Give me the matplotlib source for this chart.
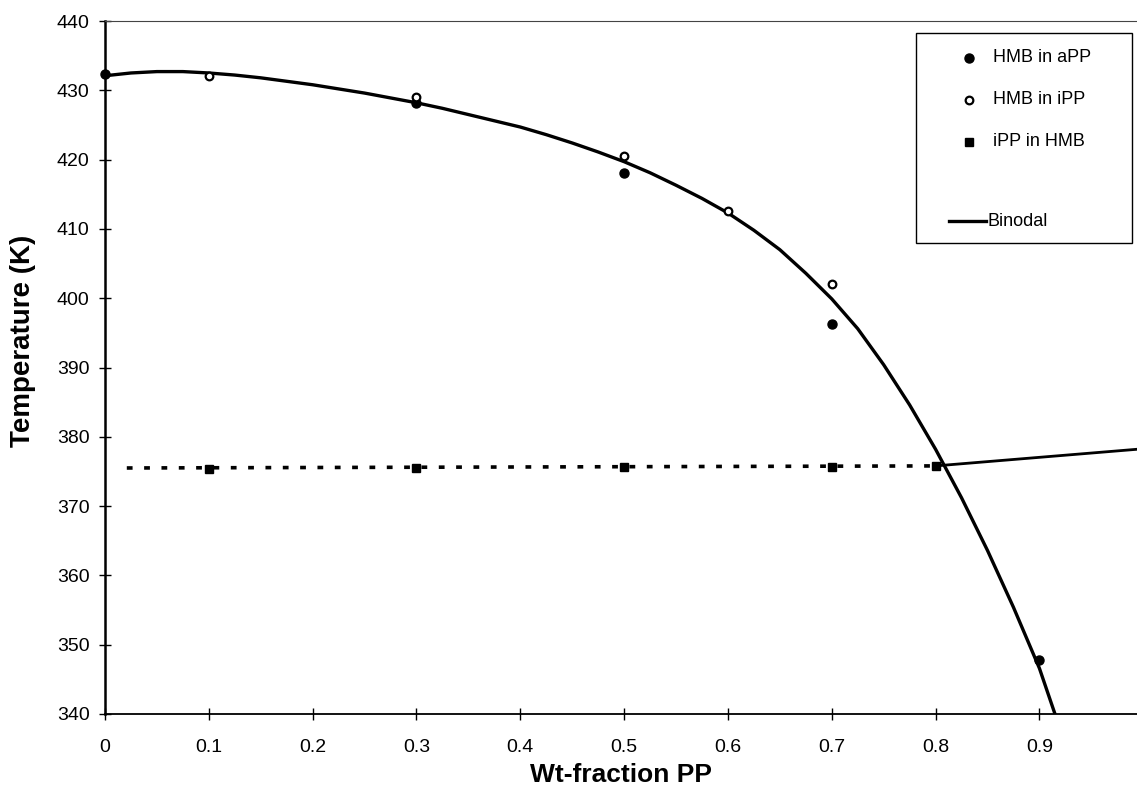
import matplotlib.pyplot as plt
from matplotlib.patches import Rectangle

plt.rcParams['font.family'] = ['Liberation Sans', 'DejaVu Sans']

# measured points
wt_app = [0.0, 0.3, 0.5, 0.7, 0.9]
T_app = [432.3, 428.2, 418.0, 396.3, 347.8]

wt_ipp = [0.1, 0.3, 0.5, 0.6, 0.7]
T_ipp = [432.0, 429.0, 420.5, 412.6, 402.0]

wt_sq = [0.1, 0.3, 0.5, 0.7, 0.8]
T_sq = [375.4, 375.5, 375.6, 375.6, 375.8]

# binodal curve
wt_bin = [0.0, 0.025, 0.05, 0.075, 0.1, 0.125, 0.15, 0.175, 0.2, 0.225, 0.25,
          0.275, 0.3, 0.325, 0.35, 0.375, 0.4, 0.425, 0.45, 0.475, 0.5, 0.525,
          0.55, 0.575, 0.6, 0.625, 0.65, 0.675, 0.7, 0.725, 0.75, 0.775, 0.8,
          0.825, 0.85, 0.875, 0.9, 0.915]
T_bin = [432.1, 432.5, 432.7, 432.7, 432.5, 432.2, 431.8, 431.3, 430.8, 430.2,
         429.6, 428.9, 428.2, 427.4, 426.5, 425.6, 424.7, 423.6, 422.4, 421.1,
         419.7, 418.1, 416.3, 414.4, 412.3, 409.8, 407.0, 403.6, 399.9, 395.6,
         390.4, 384.6, 378.2, 371.2, 363.6, 355.4, 346.6, 340.0]

# dotted and solid horizontal branches
wt_dot = [0.021, 0.8]
T_dot = [375.5, 375.8]
wt_sol = [0.8, 0.994]
T_sol = [375.8, 378.2]

legend_labels = ['HMB in aPP', 'HMB in iPP', 'iPP in HMB', 'Binodal']

fig = plt.figure(figsize=(11.37, 7.98), dpi=100)
ax = fig.add_axes([105/1137, 84/798, 1032/1137, 693/798])

ax.plot(wt_bin, T_bin, color='black', lw=2.4, solid_joinstyle='round', zorder=2)
ax.plot(wt_dot, T_dot, color='black', lw=2.6, linestyle=(0, (1.6, 3.2)), zorder=2)
ax.plot(wt_sol, T_sol, color='black', lw=2.0, zorder=2)

ax.plot(wt_app, T_app, 'o', color='black', ms=6.5, zorder=3, clip_on=False)
ax.plot(wt_ipp, T_ipp, 'o', mfc='white', mec='black', mew=1.6, ms=5.5, zorder=3)
ax.plot(wt_sq, T_sq, 's', color='black', ms=6, zorder=3)

ax.set_xlim(0, 0.994)
ax.set_ylim(340, 440)
ax.set_xticks([0, 0.1, 0.2, 0.3, 0.4, 0.5, 0.6, 0.7, 0.8, 0.9])
ax.set_xticklabels(['0', '0.1', '0.2', '0.3', '0.4', '0.5', '0.6', '0.7', '0.8', '0.9'])
ax.set_yticks(range(340, 441, 10))
ax.tick_params(axis='both', direction='inout', length=8, width=1, labelsize=14,
               colors='black')
ax.tick_params(axis='x', pad=14)
ax.tick_params(axis='y', pad=7)

ax.spines['right'].set_visible(False)
ax.spines['top'].set_linestyle((0, (1, 1)))
ax.spines['top'].set_linewidth(0.8)
ax.spines['top'].set_color('#444444')
ax.spines['left'].set_linewidth(1.8)
ax.spines['bottom'].set_linewidth(1.3)

ax.set_xlabel('Wt-fraction PP', fontsize=19, fontweight='bold', va='top')
ax.xaxis.set_label_coords(0.5, -0.0707)
ax.set_ylabel('Temperature (K)', fontsize=20, fontweight='bold', va='center')
ax.yaxis.set_label_coords(-0.0795, 0.538)

# legend box drawn by hand to match the original layout
def px(x, y):
    return (x - 105) / 1032, (714 - y) / 693

x0, y0 = px(916, 243)
x1, y1 = px(1132, 33)
ax.add_patch(Rectangle((x0, y0), x1 - x0, y1 - y0, transform=ax.transAxes,
                       fill=True, facecolor='white', edgecolor='black', lw=1.0,
                       zorder=4))
mx, _ = px(969, 0)
tx, _ = px(993, 0)
for i, (y, style) in enumerate(zip([58, 100, 142],
                                   [dict(marker='o', color='black', ms=6.5),
                                    dict(marker='o', mfc='white', mec='black', mew=1.6, ms=5.5),
                                    dict(marker='s', color='black', ms=6)])):
    _, yy = px(0, y)
    ax.plot([mx], [yy], ls='none', transform=ax.transAxes, zorder=5, **style)
    ax.text(tx, yy, legend_labels[i], transform=ax.transAxes, fontsize=13,
            va='center', ha='left', zorder=5)
lx0, ly = px(949, 221)
lx1, _ = px(986, 221)
ax.plot([lx0, lx1], [ly, ly], color='black', lw=2.4, transform=ax.transAxes, zorder=5)
ax.text(lx1 + 0.001, ly, legend_labels[3], transform=ax.transAxes, fontsize=13,
        va='center', ha='left', zorder=5)

plt.savefig('out.png', dpi=100)
